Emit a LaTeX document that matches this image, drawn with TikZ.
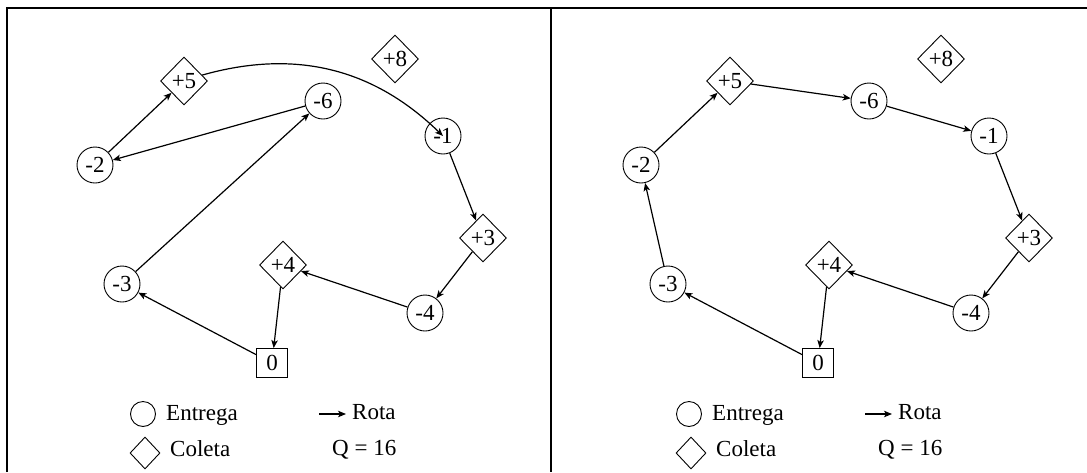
\documentclass[tikz,border=0pt]{standalone}
\usepackage{fontspec}
\setmainfont{Liberation Serif}
\usetikzlibrary{shapes.geometric,arrows.meta}
\tikzset{
  lbl/.style={font=\fontsize{23}{23}\selectfont},
  deliv/.style={circle,draw,line width=0.9pt,minimum size=36pt,inner sep=0pt,lbl},
  coll/.style={diamond,draw,line width=0.9pt,minimum width=47pt,minimum height=48pt,inner sep=0pt,lbl},
  depot/.style={rectangle,draw,line width=0.9pt,minimum width=31pt,minimum height=29pt,inner sep=0pt,lbl},
  route/.style={-{Stealth[length=8pt,width=6.5pt,inset=2pt]},line width=1.2pt},
  legtext/.style={anchor=base west,inner sep=0pt,font=\fontsize{23}{23}\selectfont},
  legcirc/.style={circle,draw,line width=0.9pt,minimum size=25pt,inner sep=0pt},
  legdiam/.style={diamond,draw,line width=0.9pt,minimum width=30pt,minimum height=32pt,inner sep=0pt},
  framel/.style={line width=1.3pt},
}
\newcommand\panelnodes{%
  \node[coll]  (p5) at (184,81)  {+5};
  \node[coll]  (p8) at (395,59)  {+8};
  \node[deliv] (m6) at (323,101) {-6};
  \node[deliv] (m1) at (443,136) {-1};
  \node[deliv] (m2) at (95,165)  {-2};
  \node[coll]  (p3) at (483,238) {+3};
  \node[deliv] (m4) at (425,313) {-4};
  \node[deliv] (m3) at (122,284) {-3};
  \node[coll]  (p4) at (283,265) {+4};
  \node[depot] (d0) at (272,363) {0};
  \node[legcirc] (lc) at (143,414) {};
  \node[legtext] (le) at (166,420) {Entrega};
  \coordinate (la1) at (319,414);
  \coordinate (la2) at (346,414);
  \draw[route] (la1) -- (la2);
  \node[legtext] (lr) at (352,419) {Rota};
  \node[legdiam] (ld) at (145,453) {};
  \node[legtext] (lco) at (170,456) {Coleta};
  \node[legtext] (lq) at (332,455) {Q = 16};
}
\begin{document}
\begin{tikzpicture}[x=1pt,y=-1pt]
  \useasboundingbox (0,0) rectangle (1087,472);
  \draw[framel] (7,472) -- (7,8) -- (1087,8);
  \draw[framel] (551,8) -- (551,472);
  \begin{scope}[name prefix=L-]
    \panelnodes
    \draw[route] (d0) -- (m3);
    \draw[route] (m3) -- (m6);
    \draw[route] (m6) -- (m2);
    \draw[route] (m2) -- (p5);
    \draw[route] (p5) to[bend left=30] (m1);
    \draw[route] (m1) -- (p3);
    \draw[route] (p3) -- (m4);
    \draw[route] (m4) -- (p4);
    \draw[route] (p4) -- (d0);
  \end{scope}
  \begin{scope}[xshift=546pt,name prefix=R-]
    \panelnodes
    \draw[route] (d0) -- (m3);
    \draw[route] (m3) -- (m2);
    \draw[route] (m2) -- (p5);
    \draw[route] (p5) -- (m6);
    \draw[route] (m6) -- (m1);
    \draw[route] (m1) -- (p3);
    \draw[route] (p3) -- (m4);
    \draw[route] (m4) -- (p4);
    \draw[route] (p4) -- (d0);
  \end{scope}
\end{tikzpicture}
\end{document}
